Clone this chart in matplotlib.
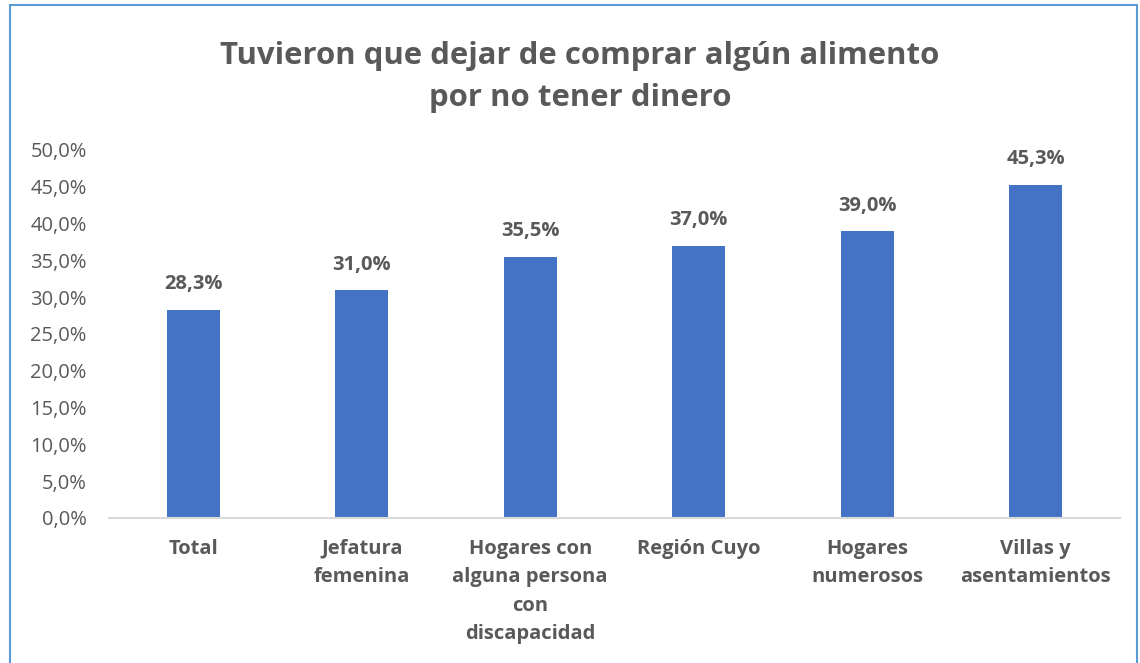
import matplotlib.pyplot as plt
from matplotlib.patches import Rectangle
from matplotlib.ticker import FuncFormatter

categories = ["Total", "Jefatura\nfemenina", "Hogares con\nalguna persona\ncon\ndiscapacidad",
              "Región Cuyo", "Hogares\nnumerosos", "Villas y\nasentamientos"]
values = [28.3, 31.0, 35.5, 37.0, 39.0, 45.3]
yticks = [0, 5, 10, 15, 20, 25, 30, 35, 40, 45, 50]

plt.rcParams['font.family'] = ['Open Sans', 'DejaVu Sans']
grey = '#595959'
bar_color = '#4472C4'

W, H = 1140, 663
fig = plt.figure(figsize=(W / 100, H / 100), dpi=100)

# axes placed in pixel terms
left, right, bottom, top = 109, 1120, 518, 150
ax = fig.add_axes([left / W, 1 - bottom / H, (right - left) / W, (bottom - top) / H])

x = list(range(len(categories)))
ax.bar(x, values, width=0.315, color=bar_color, zorder=2)
ax.set_xlim(-0.5, len(categories) - 0.5)
ax.set_ylim(0, 50)
ax.set_yticks(yticks)
ax.yaxis.set_major_formatter(FuncFormatter(lambda v, p: f"{v:.1f}%".replace('.', ',')))
ax.set_xticks(x)
ax.set_xticklabels(categories, fontweight='bold', color=grey, fontsize=14.5, linespacing=1.56)
ax.tick_params(axis='x', length=0, pad=15)
ax.tick_params(axis='y', length=0, labelsize=14.5, labelcolor=grey, pad=16)

for s in ['top', 'right', 'left']:
    ax.spines[s].set_visible(False)
ax.spines['bottom'].set_color('#D9D9D9')
ax.spines['bottom'].set_linewidth(1.5)

for xi, v in zip(x, values):
    ax.annotate(f"{v:.1f}%".replace('.', ','), (xi, v), xytext=(0, 11), textcoords='offset points',
                ha='center', va='bottom', fontsize=14.5, fontweight='bold', color=grey)

fig.text(580 / W, 1 - 77 / H, "Tuvieron que dejar de comprar algún alimento\npor no tener dinero",
         ha='center', va='center', fontsize=22.4, fontweight='bold', color=grey, linespacing=1.52)

# outer chart border
fig.patches.append(Rectangle((10 / W, -0.01), (1137 - 10) / W, 1 - 5 / H + 0.01,
                             transform=fig.transFigure, fill=False,
                             edgecolor='#5B9BD5', linewidth=1.5))

fig.savefig('out.png', dpi=100)
